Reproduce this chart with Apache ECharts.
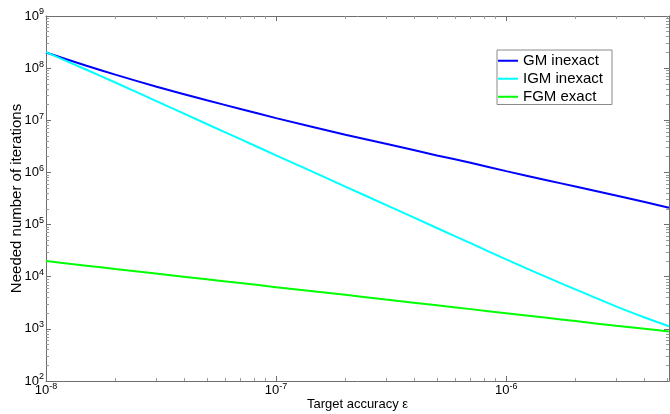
<!DOCTYPE html>
<html><head><meta charset="utf-8">
<script src="https://cdn.jsdelivr.net/npm/echarts@6/dist/echarts.min.js"></script>
<style>html,body{margin:0;padding:0;background:#fff}#c{width:670px;height:414px}</style>
</head><body><div id="c"></div>
<script>
// Target accuracy (x) sample points
const epsilon = [1e-8, 1.5e-8, 2e-8, 3e-8, 5e-8, 7e-8, 1e-7, 2e-7, 3e-7, 5e-7, 7e-7, 1e-6, 1.5e-6, 2e-6, 3e-6, 4e-6, 5.1e-6];
// Needed number of iterations
const gmInexact  = [2.0e8, 1.11e8, 7.5e7, 4.45e7, 2.42e7, 1.65e7, 1.1e7, 5.3e6, 3.55e6, 2.12e6, 1.53e6, 1.06e6, 7.1e5, 5.35e5, 3.6e5, 2.7e5, 2.1e5];
const igmInexact = [2.03e8, 9.3e7, 5.3e7, 2.36e7, 8.5e6, 4.35e6, 2.13e6, 5.35e5, 2.38e5, 8.6e4, 4.4e4, 2.15e4, 9.8e3, 5.7e3, 2.7e3, 1.65e3, 1.12e3];
const fgmExact   = [2.0e4, 1.63e4, 1.41e4, 1.15e4, 8.9e3, 7.6e3, 6.3e3, 4.5e3, 3.65e3, 2.83e3, 2.39e3, 2.0e3, 1.63e3, 1.41e3, 1.15e3, 1.0e3, 890];
const seriesNames = ['GM inexact', 'IGM inexact', 'FGM exact'];
const seriesColors = ['#0000ff', '#00ffff', '#00ff00'];
// Tick values
const xMajorTicks = [1e-8, 1e-7, 1e-6];
const yMajorTicks = [1e2, 1e3, 1e4, 1e5, 1e6, 1e7, 1e8, 1e9];
const xMin = 1e-8, xMax = 5.1e-6, yMin = 1e2, yMax = 1e9;

function minorOf(majors, maxV) {
  const out = [];
  majors.forEach(m => { for (let k = 2; k <= 9; k++) { const v = m * k; if (v <= maxV * 1.0001) out.push(v); } });
  return out;
}
const xMinorTicks = minorOf(xMajorTicks, xMax);
const yMinorTicks = minorOf(yMajorTicks.slice(0, -1), yMax);

const FONT = '"Liberation Sans", Arial, sans-serif';
const axisColor = '#6e6e6e';
const rich = {
  b: { fontSize: 13, fontFamily: FONT, color: '#000' },
  s: { fontSize: 9, fontFamily: FONT, color: '#000', padding: [0, 0, 8, 0] }
};
const fmt = v => '{b|10}{s|' + Math.round(Math.log10(v)) + '}';

function mkAxis(kind, pos, major, show) {
  const isX = kind === 'x';
  return {
    type: 'log', logBase: 10, gridIndex: 0, position: pos,
    min: isX ? xMin : yMin, max: isX ? xMax : yMax,
    axisLine: { show: show, lineStyle: { color: axisColor, width: 1 } },
    axisTick: { show: true, inside: true, length: major ? 5 : 3,
      customValues: isX ? (major ? xMajorTicks : xMinorTicks) : (major ? yMajorTicks : yMinorTicks),
      lineStyle: { color: major ? axisColor : '#9a9a9a', width: 1 } },
    minorTick: { show: false },
    axisLabel: { show: false },
    splitLine: { show: false },
    nameMoveOverlap: false,
    silent: true
  };
}

const xAxes = [mkAxis('x', 'bottom', true, true), mkAxis('x', 'bottom', false, false), mkAxis('x', 'top', true, true), mkAxis('x', 'top', false, false)];
const yAxes = [mkAxis('y', 'left', true, true), mkAxis('y', 'left', false, false), mkAxis('y', 'right', true, true), mkAxis('y', 'right', false, false)];

xAxes[0].axisLabel = { show: true, customValues: xMajorTicks, formatter: fmt, rich: rich, margin: 1 };
xAxes[0].name = 'Target accuracy \u03b5';
xAxes[0].nameLocation = 'middle';
xAxes[0].nameGap = 17;
xAxes[0].nameTextStyle = { fontSize: 13, fontFamily: FONT, color: '#000' };

yAxes[0].axisLabel = { show: true, customValues: yMajorTicks, formatter: fmt, rich: rich, margin: 2 };
yAxes[0].name = 'Needed number of iterations';
yAxes[0].nameLocation = 'middle';
yAxes[0].nameGap = 22;
yAxes[0].nameTextStyle = { fontSize: 15, fontFamily: FONT, color: '#000' };

const dataSets = [gmInexact, igmInexact, fgmExact];
const series = dataSets.map((arr, i) => ({
  name: seriesNames[i], type: 'line', xAxisIndex: 0, yAxisIndex: 0,
  data: epsilon.map((e, j) => [e, arr[j]]),
  showSymbol: false, symbol: 'none', smooth: 0.2,
  lineStyle: { color: seriesColors[i], width: 2 },
  itemStyle: { color: seriesColors[i] },
  z: 3 + i
}));

const chart = echarts.init(document.getElementById('c'), null, { renderer: 'canvas' });
chart.setOption({
  animation: false,
  backgroundColor: '#fff',
  grid: { left: 46, top: 16, width: 623, height: 365, containLabel: false, outerBoundsMode: 'none' },
  xAxis: xAxes,
  yAxis: yAxes,
  legend: {
    data: seriesNames, orient: 'vertical', left: 497, top: 50,
    icon: 'rect', itemWidth: 20, itemHeight: 2, itemGap: 2.5,
    padding: [3, 9, 0, 1],
    borderColor: '#8a8a8a', borderWidth: 1, backgroundColor: '#fff',
    textStyle: { fontSize: 15, fontFamily: FONT, color: '#000', lineHeight: 15.5 },
    selectedMode: false
  },
  series: series
});
</script></body></html>
